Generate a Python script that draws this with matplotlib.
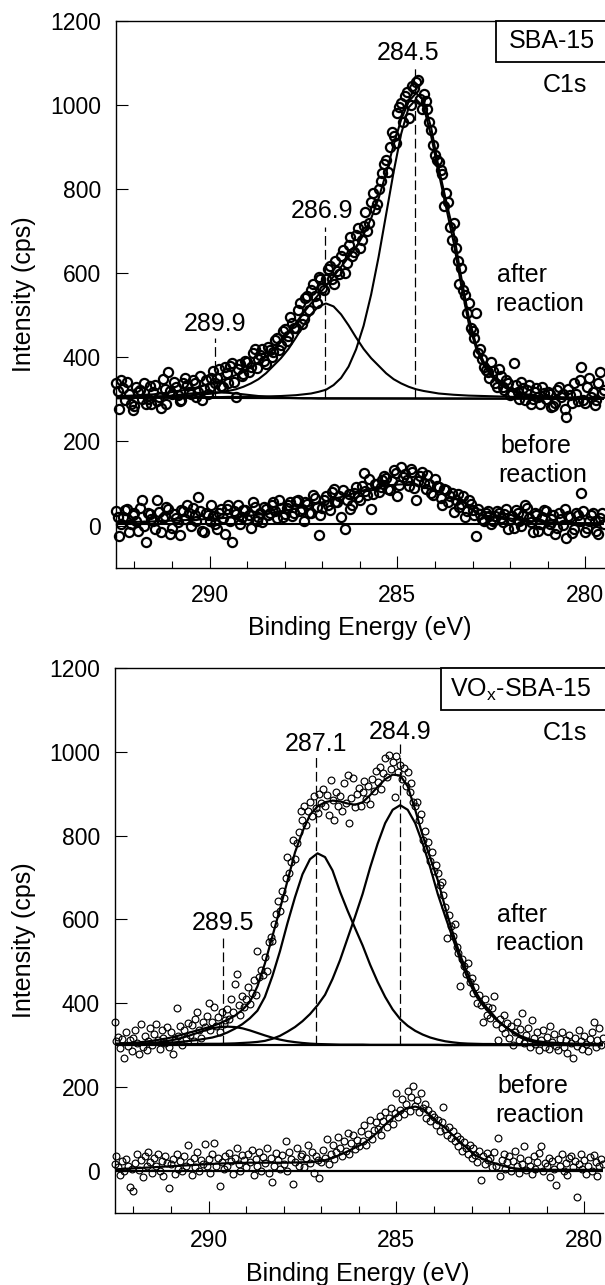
import numpy as np
import matplotlib.pyplot as plt
from matplotlib.patches import Rectangle

plt.rcParams['font.family'] = ['Liberation Sans', 'DejaVu Sans']
plt.rcParams['lines.scale_dashes'] = False

# energy grid of the fitted curves: 292.5 -> 279.5 eV, 66 points (0.2 eV)
fit_x = np.linspace(292.5, 279.5, 66)

# ---------------- SBA-15 (top panel) ----------------
top_env = [308, 308, 309, 310, 311, 312, 314, 316, 319, 322, 325,
           329, 334, 339, 345, 351, 358, 366, 376, 388, 402, 418,
           437, 458, 482, 506, 528, 549, 570, 592, 615, 638, 662,
           692, 730, 778, 838, 905, 965, 1008, 1028, 1010, 945, 850,
           770, 695, 590, 495, 428, 389, 362, 342, 330, 321, 315,
           311, 308, 306, 305, 304, 303, 303, 302, 302, 302, 302]
top_c845 = [304, 304, 304, 304, 304, 304.5, 304.5, 304.5, 305, 305, 305,
            305, 305.5, 305.5, 305.5, 306, 306, 306.5, 306.5, 307, 307, 307.5,
            308, 309, 310, 312, 314, 318, 323, 334, 351, 378, 419,
            475, 549, 639, 740, 841, 931, 994, 1013, 995, 925, 838,
            755, 672, 570, 480, 420, 381, 355, 337, 326, 318, 313,
            310, 308, 306, 305, 304, 304, 303, 303, 303, 303, 303]
top_c869 = [305.5, 305.5, 306, 306, 306.5, 307, 307.5, 308, 308.5, 309, 310,
            311, 312.5, 314, 317, 320, 324, 330, 338, 348, 362, 380,
            398, 420, 447, 476, 502, 521, 528, 521, 502, 476, 447,
            420, 398, 380, 362, 348, 338, 330, 324, 320, 317, 314,
            312.5, 311, 310, 309, 308.5, 308, 307.5, 307, 306.5, 306, 306,
            305.5, 305.5, 305, 305, 305, 304.5, 304.5, 304.5, 304, 304, 304]
top_c899 = [302.5, 302.5, 303, 303.5, 304, 305, 306.5, 308, 310, 312, 314,
            315.5, 316.5, 317, 316.5, 315.5, 314, 312, 310, 308, 306.5, 305,
            304, 303.5, 303, 302.5, 302.5, 302, 302, 302, 302, 302, 302,
            302, 302, 302, 302, 302, 302, 302, 302, 302, 302, 302,
            302, 302, 302, 302, 302, 302, 302, 302, 302, 302, 302,
            302, 302, 302, 302, 302, 302, 302, 302, 302, 302, 302]
top_base = [304, 301]
top_bef_fit = [8, 8, 8.5, 9, 9.5, 10, 11, 11.5, 12, 13, 13.5,
               14.5, 15.5, 16.5, 17.5, 19, 20, 22, 24, 26, 28, 31,
               34, 37, 41, 44, 48, 53, 58, 63, 68, 73, 79,
               84, 88, 93, 95, 97, 98, 98, 96, 92, 86, 80,
               73, 65, 57, 49, 41, 34, 28, 22, 18.5, 15.5, 13,
               11, 10, 9, 8, 7, 7, 6.5, 6, 6, 6, 6]
top_bef_base = [3, 3]

# measured points: 292.5 -> 279.5 eV (0.1 eV) and the in-between channels
top_x = np.linspace(292.5, 279.5, 131)
top_x2 = np.linspace(292.45, 279.55, 130)
top_after = [338, 276, 326, 342, 290, 284, 318, 300, 290, 333,
             318, 296, 279, 325, 366, 312, 330, 296, 338, 335,
             312, 340, 318, 298, 345, 330, 368, 352, 333, 376,
             340, 386, 305, 384, 360, 388, 378, 420, 395, 420,
             385, 418, 412, 445, 430, 468, 450, 482, 470, 528,
             492, 545, 560, 545, 590, 565, 585, 618, 575, 605,
             640, 600, 668, 640, 690, 660, 712, 700, 768, 752,
             800, 838, 870, 900, 925, 980, 1005, 1020, 968, 1045,
             1055, 1015, 1025, 990, 940, 880, 865, 835, 790, 710,
             720, 630, 612, 548, 530, 462, 505, 420, 378, 366,
             388, 340, 372, 330, 345, 310, 386, 318, 342, 298,
             335, 300, 326, 288, 315, 318, 283, 292, 330, 312,
             259, 310, 339, 296, 378, 291, 351, 318, 298, 366,
             322]
top_after2 = [320, 345, 298, 312, 275, 330, 322, 340, 300, 288,
              335, 305, 348, 290, 320, 342, 310, 298, 350, 318,
              345, 305, 356, 325, 312, 350, 338, 372, 330, 362,
              380, 342, 372, 355, 392, 365, 410, 374, 405, 392,
              425, 400, 440, 418, 462, 438, 495, 470, 512, 480,
              540, 512, 575, 530, 585, 560, 610, 585, 628, 598,
              655, 625, 685, 650, 708, 680, 745, 720, 790, 765,
              820, 860, 840, 935, 910, 995, 960, 1030, 1000, 1040,
              1060, 990, 1010, 960, 905, 870, 845, 760, 770, 680,
              660, 575, 560, 505, 470, 445, 410, 395, 370, 352,
              368, 330, 355, 322, 340, 315, 335, 300, 328, 322,
              290, 318, 305, 330, 300, 312, 285, 322, 306, 278,
              325, 292, 312, 345, 298, 330, 306, 286, 340, 315]
top_before = [35, -25, 20, 40, 5, 30, -12, 62, -38, 28,
              10, 60, -15, 22, 40, -5, 18, -22, 35, 48,
              0, 25, 68, -12, 30, 10, 22, -8, 40, -20,
              50, -40, 28, 5, 38, 15, -6, 45, 20, 8,
              40, 30, 55, 18, 42, 28, 50, 22, 58, 35,
              10, 52, 30, 65, -22, 42, 70, 38, 88, 55,
              20, -8, 75, 48, 92, 60, 126, 72, 40, 98,
              80, 108, 112, 85, 132, 70, 140, 122, 95, 128,
              62, 118, 102, 120, 78, 110, 92, 48, 85, 70,
              32, 75, 52, 20, 60, 38, -25, 28, 12, 35,
              5, 22, 30, 8, 40, 15, -5, 30, 0, 48,
              18, -15, 25, 5, 38, -10, 15, -20, 30, 2,
              -30, 20, -8, 25, 78, -15, 10, 30, -12, 18,
              5]
top_before2 = [20, 5, 38, -15, 25, 12, 42, 0, 30, 15,
               -8, 32, 18, 45, -20, 28, 8, 38, 15, 30,
               42, 10, 35, -15, 25, 48, 5, 30, 18, 40,
               12, 35, 48, 20, 38, 25, 55, 10, 30, 45,
               25, 48, 35, 60, 20, 42, 55, 30, 62, 40,
               55, 30, 72, 45, 25, 62, 48, 80, 55, 70,
               85, 60, 40, 78, 68, 95, 82, 110, 75, 100,
               92, 118, 88, 105, 125, 96, 115, 108, 135, 90,
               105, 128, 88, 100, 72, 95, 65, 88, 55, 78,
               60, 45, 70, 35, 52, 25, 40, 15, 30, 22,
               10, 35, 18, 28, -8, 22, 38, 12, 25, 42,
               8, 30, -12, 20, 35, 5, 25, -5, 15, 40,
               22, -18, 30, 10, 35, -5, 25, 12, -20, 30]

# ---------------- VOx-SBA-15 (bottom panel) ----------------
bot_env = [303, 304, 305, 306, 308, 310, 313, 316, 320, 325, 330,
           335, 340, 345, 352, 360, 370, 384, 403, 440, 495, 560,
           625, 692, 760, 810, 850, 870, 880, 884, 882, 877, 874,
           880, 897, 917, 935, 946, 944, 918, 862, 800, 747, 694,
           628, 568, 514, 470, 428, 400, 380, 359, 343, 330, 318,
           311, 306, 304, 303, 302, 301, 301, 300, 300, 300, 300]
bot_c849 = [301, 301, 301, 301.5, 301.5, 301.5, 302, 302, 302, 302, 302.5,
            302.5, 303, 303, 303, 303.5, 304, 305, 306, 307.5, 310, 315,
            322, 332, 343, 357, 374, 395, 420, 458, 503, 555, 607,
            661, 724, 781, 830, 862, 873, 862, 830, 781, 724, 661,
            607, 555, 503, 458, 420, 395, 374, 357, 343, 332, 322,
            315, 310, 307.5, 306, 305, 304, 303.5, 303, 303, 303, 302.5]
bot_c871 = [302.5, 302.5, 303, 303, 303.5, 304, 304.5, 305.5, 306.5, 308, 310,
            312, 315, 318, 323, 330, 339, 350, 364, 382, 415, 465,
            524, 591, 653, 708, 744, 758, 749, 717, 666, 621, 579,
            538, 492, 451, 415, 385, 362, 346, 334, 325, 318, 313,
            309, 306.5, 304.5, 303.5, 303, 302.5, 302.5, 302, 302, 302, 302,
            302, 302, 302, 301.5, 301.5, 301.5, 301.5, 301.5, 301.5, 301.5, 301.5]
bot_c895 = [301, 301.5, 302, 302.5, 303.5, 305, 307, 309.5, 313, 317.5, 323,
            329, 335, 340, 343, 344, 343, 340, 335, 329, 323, 317.5,
            313, 309.5, 307, 305, 303.5, 302.5, 302, 301.5, 301, 301, 301,
            301, 300.5, 300.5, 300.5, 300.5, 300.5, 300.5, 300.5, 300.5, 300.5, 300.5,
            300, 300, 300, 300, 300, 300, 300, 300, 300, 300, 300,
            300, 300, 300, 300, 300, 300, 300, 300, 300, 300, 300]
bot_base = [300, 300]
bot_bef_fit = [3, 4, 5, 6, 7, 8, 9, 10, 11, 12, 13,
               14, 15, 16, 17, 17.5, 18, 18.5, 19, 19, 19, 19,
               19, 19, 19.5, 20, 20, 22, 25, 30, 38, 46, 55,
               64, 76, 92, 110, 126, 140, 150, 153, 148, 132, 116,
               102, 85, 68, 52, 37, 28, 21, 15, 10, 6, 4,
               3, 3, 2.5, 2, 2, 2, 2, 2, 2, 2, 2]
bot_bef_base = [0, 0]

# measured points, 292.5 -> 279.5 eV, 0.05 eV step
bot_x = np.linspace(292.5, 279.5, 261)
bot_after = [356, 309, 320, 292, 315, 270, 330, 298, 312, 286,
             318, 335, 304, 278, 350, 296, 322, 288, 310, 340,
             300, 326, 350, 312, 290, 335, 318, 305, 342, 296,
             330, 278, 312, 388, 322, 345, 300, 336, 318, 352,
             325, 348, 310, 362, 380, 335, 318, 356, 342, 370,
             400, 336, 355, 390, 345, 368, 330, 380, 350, 360,
             385, 362, 410, 378, 445, 470, 395, 372, 418, 390,
             410, 438, 398, 425, 455, 420, 525, 462, 480, 468,
             510, 476, 545, 559, 548, 590, 612, 643, 620, 668,
             652, 700, 750, 712, 738, 790, 745, 782, 810, 858,
             838, 870, 826, 858, 880, 848, 895, 866, 855, 900,
             878, 912, 870, 898, 850, 933, 885, 838, 905, 872,
             895, 860, 925, 878, 945, 830, 890, 939, 868, 900,
             915, 870, 905, 930, 888, 920, 875, 935, 908, 955,
             928, 965, 912, 950, 985, 940, 994, 960, 977, 893,
             990, 952, 968, 935, 962, 920, 953, 905, 925, 880,
             870, 881, 838, 852, 790, 812, 768, 785, 740, 760,
             715, 730, 710, 682, 690, 659, 630, 555, 610, 585,
             560, 590, 535, 520, 440, 505, 488, 470, 495, 450,
             460, 425, 438, 400, 420, 395, 356, 410, 372, 390,
             365, 388, 416, 350, 313, 362, 340, 372, 328, 352,
             318, 345, 300, 332, 356, 312, 338, 376, 305, 325,
             340, 295, 361, 318, 302, 330, 288, 312, 335, 296,
             320, 290, 345, 308, 326, 298, 287, 315, 332, 296,
             312, 280, 325, 305, 270, 318, 298, 336, 310, 290,
             322, 302, 285, 315, 330, 356, 295, 312, 340, 300,
             318]
bot_before = [15, 35, 8, -10, 22, 0, 28, 12, -40, 5,
              -49, 18, 40, 2, 25, -15, 35, 10, 45, 20,
              -5, 30, 12, 40, 0, 22, -12, 35, 18, -41,
              15, 28, -8, 40, 5, 22, 0, 35, 12, 62,
              20, -10, 30, 8, 45, 0, 25, 15, 64, 10,
              28, -5, 40, 66, 12, 30, -37, 20, 5, 35,
              10, 42, 22, -8, 30, 55, 15, 0, 38, 25,
              8, 40, 20, 50, -10, 28, 12, 45, 0, 32,
              18, 55, -5, 30, -28, 10, 42, 25, 5, 38,
              15, 70, 0, 45, 28, -33, 20, 55, 10, 35,
              40, 8, 30, 62, 18, 45, -5, 35, 25, -18,
              20, 50, 30, 75, 15, 40, 62, 28, 45, 80,
              55, 35, 70, 48, 90, 40, 65, 85, 52, 72,
              60, 95, 70, 110, 62, 88, 120, 75, 98, 115,
              100, 130, 85, 118, 140, 105, 125, 150, 112, 138,
              185, 128, 145, 170, 135, 160, 190, 142, 175, 201,
              155, 168, 140, 185, 150, 160, 125, 145, 118, 135,
              128, 110, 120, 95, 115, 153, 100, 85, 105, 78,
              95, 70, 82, 60, 75, 48, 68, 55, 40, 62,
              30, 55, 38, 20, 48, -22, 35, 15, 42, 25,
              30, 8, 45, 12, 78, -14, 25, 40, 5, 20,
              35, 0, 22, 48, 10, -5, 30, 15, 60, 2,
              25, 12, -8, 35, 5, 20, 42, 58, 0, 18,
              10, 30, -15, 22, 5, -34, 28, 12, 40, 0,
              18, -10, 30, 35, 8, 22, -64, 15, 40, 5,
              25, -8, 12, 33, 0, 38, 20, -12, 10, 28,
              15]

# peak markers: label, line position (eV), label position (eV, cps), line top (cps)
top_peaks = [("289.9", 289.85, 289.85, 479, 445),
             ("286.9", 286.93, 287.01, 748, 710),
             ("284.5", 284.52, 284.71, 1124, 1091)]
bot_peaks = [("289.5", 289.62, 289.62, 592, 555),
             ("287.1", 287.14, 287.14, 1020, 989),
             ("284.9", 284.90, 284.90, 1048, 1020)]

W, H = 605, 1285
fig = plt.figure(figsize=(W / 100, H / 100), dpi=100)
ax1 = fig.add_axes([115.7 / W, 1 - 567.7 / H, 488.3 / W, 547 / H])
ax2 = fig.add_axes([114.6 / W, 1 - 1212.5 / H, 488.5 / W, 544.2 / H])


def px(x, y):
    return x / W, 1 - y / H


def style(ax):
    ax.set_xlim(292.5, 279.5)
    ax.set_ylim(-100, 1200)
    ax.set_xticks([290, 285, 280])
    ax.set_xticks(np.arange(280, 293), minor=True)
    ax.set_yticks(np.arange(0, 1201, 200))
    ax.tick_params(which='both', direction='in', width=0.8, colors='black',
                   labelsize=16.5)
    ax.tick_params(axis='x', which='major', length=8.5, pad=12)
    ax.tick_params(axis='x', which='minor', length=5)
    ax.tick_params(axis='y', length=8.5, pad=10.5)
    ax.spines['right'].set_visible(False)
    for s in ['left', 'bottom', 'top']:
        ax.spines[s].set_linewidth(1.0)


def points(ax, xd, yd, ms, mew):
    ax.plot(xd, yd, 'o', mfc='none', mec='black', ms=ms, mew=mew, clip_on=False, zorder=2)


def fits(ax, curves, base, bfit, bbase, peaks, lw):
    for f in curves:
        ax.plot(fit_x, f, color='black', lw=lw, zorder=3)
    ax.plot(fit_x, bfit, color='black', lw=lw, zorder=3)
    ax.plot([292.5, 279.5], base, color='black', lw=lw, zorder=3)
    ax.plot([292.5, 279.5], bbase, color='black', lw=lw, zorder=3)
    for lab, xl, xt, yt, ytop in peaks:
        ax.plot([xl, xl], [base[0], ytop], color='black', lw=0.9, dashes=(7, 3), zorder=4)
        ax.text(xt, yt, lab, ha='center', va='center', fontsize=18)


style(ax1)
style(ax2)
for xd, yd in [(top_x, top_after), (top_x2, top_after2),
               (top_x, top_before), (top_x2, top_before2)]:
    points(ax1, xd, yd, 6.6, 1.6)
for yd in (bot_after, bot_before):
    points(ax2, bot_x, yd, 4.9, 0.85)
fits(ax1, [top_env, top_c845, top_c869, top_c899], top_base, top_bef_fit,
     top_bef_base, top_peaks, 1.5)
fits(ax2, [bot_env, bot_c849, bot_c871, bot_c895], bot_base, bot_bef_fit,
     bot_bef_base, bot_peaks, 1.6)

# sample boxes hanging from the top spine
ax1.add_patch(Rectangle((0.778, 0.925), 0.3, 0.075, transform=ax1.transAxes,
                        fc='white', ec='black', lw=1.3, clip_on=False, zorder=5))
ax2.add_patch(Rectangle((0.668, 0.9234), 0.4, 0.0766, transform=ax2.transAxes,
                        fc='white', ec='black', lw=1.3, clip_on=False, zorder=5))
fig.text(*px(551.7, 41), 'SBA-15', ha='center', va='center', fontsize=18, zorder=6)
fig.text(*px(520.5, 690), r'VO$_\mathregular{x}$-SBA-15', ha='center', va='center',
         fontsize=18, zorder=6)

for yc in (85, 733):
    fig.text(*px(565, yc), 'C1s', ha='center', va='center', fontsize=18)
for xl, y1, y2, word in [(497, 275, 304, 'after'), (500, 446, 475, 'before'),
                         (497, 915, 943, 'after'), (497, 1086, 1115, 'before')]:
    fig.text(*px(xl, y1), word, ha='left', va='center', fontsize=18)
    fig.text(*px(xl - 2, y2), 'reaction', ha='left', va='center', fontsize=18)

fig.text(*px(360, 628), 'Binding Energy (eV)', ha='center', va='center', fontsize=18)
fig.text(*px(358, 1274), 'Binding Energy (eV)', ha='center', va='center', fontsize=18)
fig.text(*px(24, 294), 'Intensity (cps)', ha='center', va='center', rotation=90, fontsize=18)
fig.text(*px(24, 940), 'Intensity (cps)', ha='center', va='center', rotation=90, fontsize=18)

fig.savefig('out.png', dpi=100)
